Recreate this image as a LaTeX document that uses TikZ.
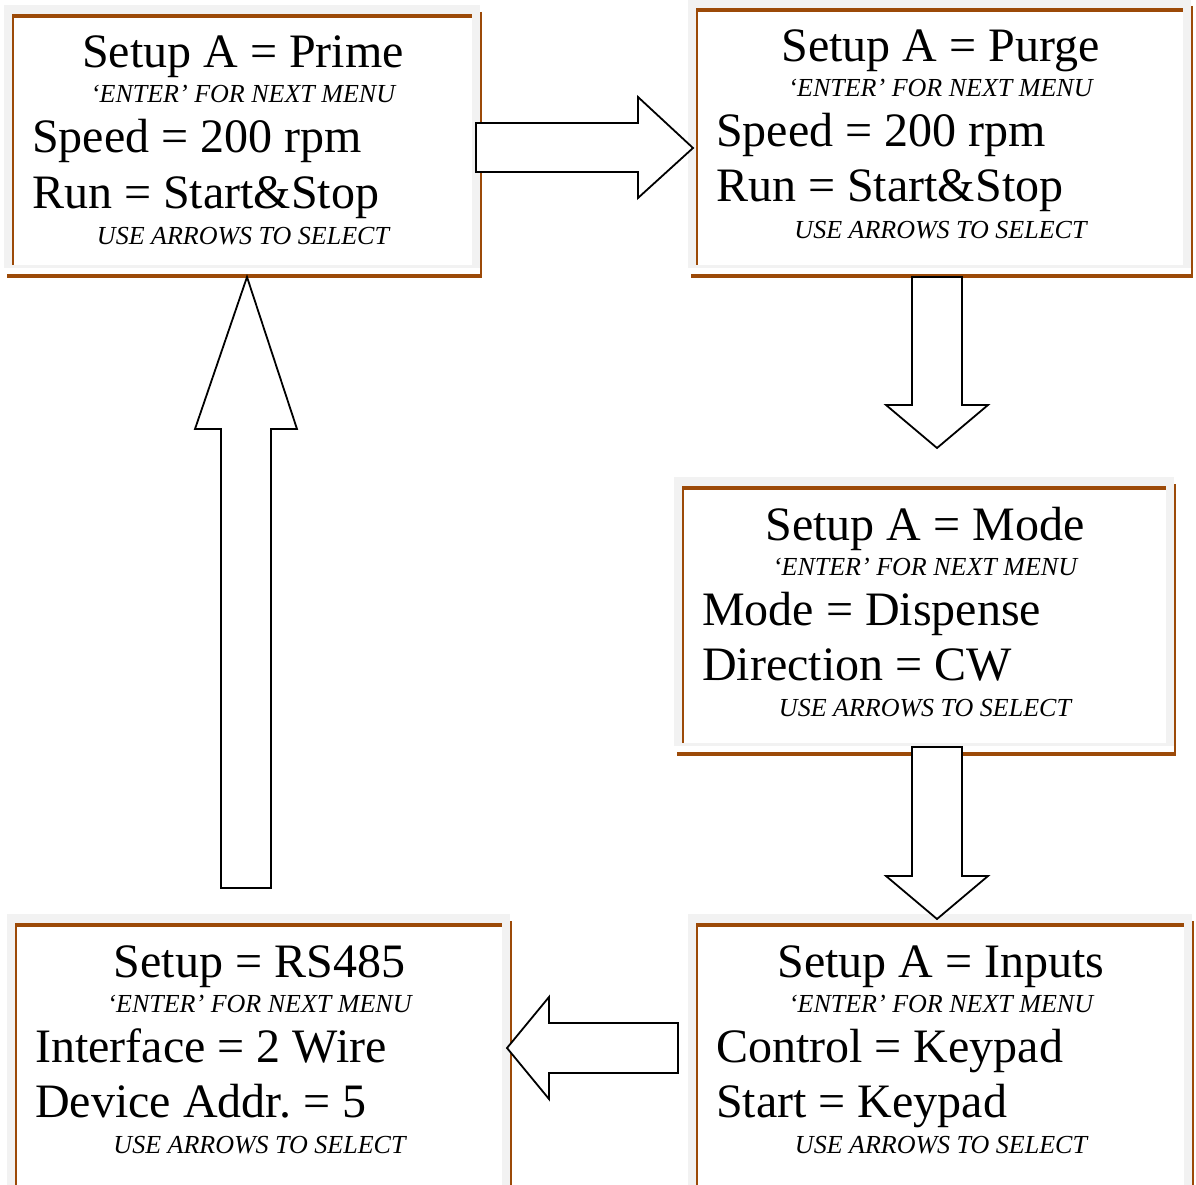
\documentclass[tikz,border=0pt]{standalone}
\usepackage{fontspec}
\setmainfont{Liberation Serif}
\frenchspacing
\definecolor{framebrown}{RGB}{156,74,8}
\definecolor{framegray}{RGB}{242,242,242}
\tikzset{
  bigtext/.style={anchor=base,inner sep=0pt,font=\fontsize{48}{52}\selectfont},
  hinttext/.style={anchor=base,inner sep=0pt,font=\fontsize{26}{28}\selectfont\itshape},
  blockarrow/.style={draw=black,fill=white,line width=1.8pt,line join=miter},
}
% #1 name, #2--#5 grey frame corners, #6 title, #7 #8 settings
\newcommand{\menubox}[8]{%
  \fill[framegray] (#2,#3) rectangle (#4,#5);
  \fill[white] (#2+10,#3+13) rectangle (#4-8,#5-3);
  \draw[framebrown,line width=4pt] (#2+8,#3+11) -- (#4-8,#3+11);
  \draw[framebrown,line width=2pt] (#2+9,#3+11) -- (#2+9,#5-3);
  \draw[framebrown,line width=2.5pt] (#4+1,#3+7) -- (#4+1,#5+10);
  \draw[framebrown,line width=4pt] (#2+3,#5+8) -- (#4+2,#5+8);
  \node[bigtext] (#1-title) at ({(#2+#4+2)/2},#3+63) {#6};
  \node[hinttext] (#1-enter) at ({(#2+#4+2)/2},#3+98) {‘ENTER’ FOR NEXT MENU};
  \node[bigtext,anchor=base west] (#1-one) at (#2+28,#3+148) {#7};
  \node[bigtext,anchor=base west] (#1-two) at (#2+28,#3+203) {#8};
  \node[hinttext] (#1-use) at ({(#2+#4+2)/2},#3+239) {USE ARROWS TO SELECT};
}
\begin{document}
\begin{tikzpicture}[x=1pt,y=-1pt]
  \clip (0,0) rectangle (1196,1185);
  \fill[white] (0,0) rectangle (1196,1185);
  \menubox{prime}{4}{5}{480}{268}{Setup A = Prime}{Speed = 200 rpm}{Run = Start\&Stop}
  \menubox{purge}{688}{-1}{1191}{268}{Setup A = Purge}{Speed = 200 rpm}{Run = Start\&Stop}
  \menubox{mode}{674}{477}{1174}{746}{Setup A = Mode}{Mode = Dispense}{Direction = CW}
  \menubox{inputs}{688}{914}{1192}{1196}{Setup A = Inputs}{Control = Keypad}{Start = Keypad}
  \menubox{rs}{7}{914}{510}{1196}{Setup = RS485}{Interface = 2 Wire}{Device Addr. = 5}
  % block arrows between the menus
  \draw[blockarrow] (476,123) -- (638,123) -- (638,97) -- (693,148) -- (638,198) -- (638,172) -- (476,172) -- cycle;
  \draw[blockarrow] (912,277) -- (962,277) -- (962,405) -- (988,405) -- (937,448) -- (886,405) -- (912,405) -- cycle;
  \draw[blockarrow] (912,747) -- (962,747) -- (962,876) -- (988,876) -- (937,919) -- (886,876) -- (912,876) -- cycle;
  \draw[blockarrow] (678,1023) -- (549,1023) -- (549,997) -- (507,1048) -- (549,1099) -- (549,1073) -- (678,1073) -- cycle;
  \draw[blockarrow] (221,888) -- (221,429) -- (195,429) -- (247,277) -- (297,429) -- (271,429) -- (271,888) -- cycle;
\end{tikzpicture}
\end{document}
